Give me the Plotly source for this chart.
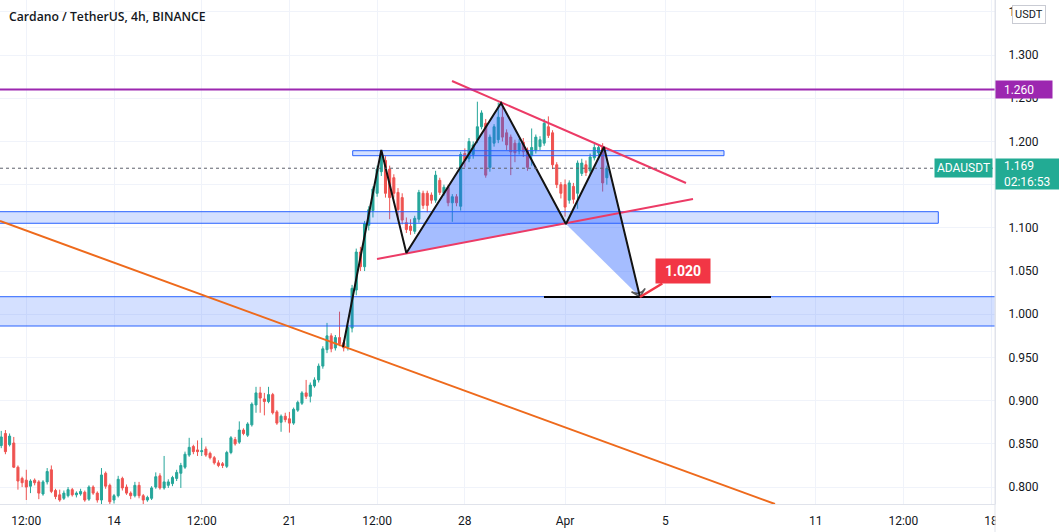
import plotly.graph_objects as go
import pandas as pd

# ---------------- data ----------------
opens = [.848,.862,.849,.851,.823,.810,.808,.801,.808,.806,.792,.806,.820,.796,.791,.787,.790,.797,.791,.792,
         .794,.786,.800,.793,.785,.816,.802,.785,.790,.810,.800,.793,.790,.802,.790,.785,.787,.800,.813,.799,
         .802,.804,.810,.816,.823,.837,.847,.843,.841,.844,.839,.834,.828,.827,.824,.840,.855,.852,.866,.860,
         .872,.895,.909,.902,.899,.907,.887,.875,.882,.879,.874,.889,.897,.909,.905,.917,.924,.940,.959,.975,
         .961,.973,.967,.962,.984,1.028,1.072,1.055,1.103,1.120,1.140,1.165,1.178,1.168,1.158,1.141,1.135,1.106,1.102,1.096,
         1.110,1.140,1.140,1.138,1.132,1.155,1.140,1.147,1.129,1.136,1.125,1.186,1.180,1.185,1.202,1.217,1.221,1.170,1.198,1.202,
         1.228,1.210,1.205,1.198,1.189,1.199,1.190,1.184,1.190,1.194,1.198,1.217,1.210,1.173,1.150,1.150,1.132,1.148,1.140,1.163,
         1.173,1.166,1.181,1.187,1.193,1.158]
highs = [.865,.866,.862,.858,.825,.812,.820,.809,.810,.808,.808,.822,.825,.798,.797,.796,.800,.799,.795,.798,
         .796,.802,.802,.795,.822,.818,.804,.792,.813,.812,.803,.795,.806,.806,.792,.790,.801,.817,.816,.836,
         .809,.813,.820,.828,.841,.857,.849,.854,.857,.847,.841,.836,.831,.829,.842,.859,.858,.876,.868,.875,
         .898,.916,.916,.909,.916,.909,.889,.884,.886,.887,.892,.900,.911,.924,.921,.927,.943,.963,.990,.978,
         .976,1.003,.970,.988,1.034,1.076,1.078,1.108,1.125,1.148,1.172,1.190,1.183,1.172,1.162,1.146,1.140,1.112,1.110,1.114,
         1.144,1.143,1.143,1.141,1.166,1.158,1.150,1.150,1.139,1.139,1.188,1.192,1.204,1.200,1.246,1.236,1.226,1.208,1.220,1.245,
         1.240,1.214,1.208,1.202,1.203,1.204,1.193,1.215,1.208,1.206,1.226,1.229,1.213,1.176,1.153,1.156,1.155,1.152,1.178,1.180,
         1.178,1.186,1.197,1.196,1.198,1.172]
lows = [.845,.838,.847,.822,.797,.800,.785,.793,.802,.786,.790,.803,.793,.786,.783,.785,.788,.789,.788,.790,
        .783,.784,.791,.782,.780,.798,.779,.781,.788,.796,.791,.786,.788,.787,.780,.783,.785,.798,.797,.797,
        .799,.801,.807,.799,.821,.835,.838,.836,.836,.835,.832,.826,.823,.822,.822,.838,.848,.850,.860,.858,
        .870,.886,.886,.883,.897,.884,.872,.864,.875,.863,.872,.887,.895,.902,.898,.915,.921,.937,.955,.956,
        .958,.963,.957,.958,.979,1.022,1.050,1.050,1.097,1.112,1.136,1.160,1.135,1.110,1.135,1.109,1.104,1.094,1.092,1.093,
        1.106,1.122,1.118,1.128,1.129,1.138,1.137,1.125,1.107,1.125,1.120,1.170,1.176,1.180,1.198,1.214,1.158,1.165,1.194,1.198,
        1.200,1.190,1.161,1.176,1.185,1.182,1.166,1.172,1.186,1.190,1.195,1.204,1.168,1.146,1.134,1.113,1.128,1.128,1.122,1.160,
        1.160,1.162,1.178,1.184,1.142,1.150]
closes = [.858,.841,.859,.823,.807,.805,.800,.807,.805,.793,.806,.818,.795,.789,.785,.793,.797,.791,.793,.795,
          .785,.800,.793,.785,.814,.801,.783,.790,.809,.799,.793,.790,.802,.790,.785,.788,.799,.812,.799,.806,
          .806,.811,.817,.825,.838,.846,.841,.841,.842,.837,.834,.828,.825,.825,.840,.857,.850,.866,.862,.873,
          .896,.909,.903,.899,.907,.886,.874,.882,.878,.874,.890,.898,.909,.905,.918,.924,.940,.960,.975,.960,
          .973,.966,.961,.985,1.030,1.072,1.055,1.105,1.121,1.145,1.168,1.185,1.140,1.135,1.140,1.121,1.109,1.098,1.097,1.111,
          1.141,1.126,1.126,1.132,1.161,1.141,1.147,1.129,1.136,1.129,1.185,1.178,1.200,1.196,1.217,1.233,1.161,1.205,1.217,1.228,
          1.205,1.196,1.188,1.187,1.198,1.188,1.170,1.193,1.205,1.202,1.221,1.207,1.173,1.150,1.140,1.124,1.152,1.133,1.175,1.175,
          1.164,1.182,1.193,1.193,1.152,1.169]
times = pd.date_range("2022-03-09 12:00", periods=len(opens), freq="4h")

last_price = 1.169
countdown = "02:16:53"
price_ticks = [0.80, 0.85, 0.90, 0.95, 1.00, 1.05, 1.10, 1.15, 1.20, 1.25, 1.30, 1.35]
price_tick_text = ["0.800", "0.850", "0.900", "0.950", "1.000", "1.050", "1.100", "",
                   "1.200", "1.250", "1.300", "1.350"]
time_tick_vals = ["2022-03-10 12:00", "2022-03-14", "2022-03-17 12:00", "2022-03-21", "2022-03-24 12:00",
                  "2022-03-28", "2022-04-01", "2022-04-05", "2022-04-11", "2022-04-14 12:00", "2022-04-18"]
time_tick_text = ["12:00", "14", "12:00", "21", "12:00", "28", "Apr", "5", "11", "12:00", "18"]

# drawings (analyst levels / pattern points)
resistance_level = 1.260
target_level = 1.020
upper_zone = (["2022-03-23 12:36", "2022-04-07 08:12"], [1.1835, 1.1893])
middle_zone = (["2022-03-05", "2022-04-15 21:27"], [1.1053, 1.1187])
lower_zone = (["2022-03-05", "2022-04-25"], [0.9864, 1.0203])
pattern_t = ["2022-03-23 03:20", "2022-03-24 16:00", "2022-03-25 16:00", "2022-03-29 10:40",
             "2022-04-01 00:50", "2022-04-02 13:15", "2022-04-03 23:45"]
pattern_p = [0.9621, 1.1901, 1.0709, 1.2445, 1.1044, 1.1936, 1.020]
wedge_top_t = ["2022-03-27 11:43", "2022-04-05 19:48"]
wedge_top_p = [1.2700, 1.1519]
wedge_bot_t = ["2022-03-24 11:53", "2022-04-06 02:31"]
wedge_bot_p = [1.0639, 1.1334]
trend_t = ["2022-03-09 10:49", "2022-04-09 09:03"]
trend_p = [1.1079, 0.7804]
target_line_t = ["2022-03-31 03:49", "2022-04-09 05:13"]

GREEN = "#26a69a"
RED = "#ef5350"
BLUE = "rgb(41,98,255)"
BLUE_FILL = "rgba(41,98,255,0.2)"
PAT_FILL = "rgba(41,98,255,0.42)"
PINK = "#ec3b66"
ORANGE = "#ee6a1c"
PURPLE = "#9c27b0"
TEAL = "#22ab94"
TXT = "#131722"
FONT = "Roboto"

fig = go.Figure()
fig.add_trace(go.Candlestick(
    x=times, open=opens, high=highs, low=lows, close=closes,
    increasing=dict(line=dict(color=GREEN, width=1), fillcolor=GREEN),
    decreasing=dict(line=dict(color=RED, width=1), fillcolor=RED),
    whiskerwidth=0, hoverinfo="skip", showlegend=False))


def zone(tt, pp):
    x0, x1 = tt
    y0, y1 = pp
    fig.add_trace(go.Scatter(x=[x0, x1, x1, x0, x0], y=[y0, y0, y1, y1, y0], mode="lines",
                             fill="toself", fillcolor=BLUE_FILL, line=dict(color=BLUE, width=1),
                             hoverinfo="skip", showlegend=False))


zone(*upper_zone)
zone(*middle_zone)
zone(*lower_zone)

# pattern fills (triangles)
for a, b, c in [(2, 3, 4), (4, 5, 6)]:
    fig.add_trace(go.Scatter(x=[pattern_t[a], pattern_t[b], pattern_t[c], pattern_t[a]],
                             y=[pattern_p[a], pattern_p[b], pattern_p[c], pattern_p[a]],
                             mode="lines", fill="toself", fillcolor=PAT_FILL, line=dict(width=0),
                             hoverinfo="skip", showlegend=False))

# wedge lines
for tt, pp in [(wedge_top_t, wedge_top_p), (wedge_bot_t, wedge_bot_p)]:
    fig.add_trace(go.Scatter(x=tt, y=pp, mode="lines", line=dict(color=PINK, width=2),
                             hoverinfo="skip", showlegend=False))

# long trend line
fig.add_trace(go.Scatter(x=trend_t, y=trend_p, mode="lines", line=dict(color=ORANGE, width=2),
                         hoverinfo="skip", showlegend=False))

# target horizontal line
fig.add_trace(go.Scatter(x=target_line_t, y=[target_level, target_level], mode="lines",
                         line=dict(color="#000000", width=2), hoverinfo="skip", showlegend=False))

# zigzag path
fig.add_trace(go.Scatter(x=pattern_t, y=pattern_p, mode="lines", line=dict(color="#131313", width=2),
                         hoverinfo="skip", showlegend=False))
# arrow at the end of the path
fig.add_trace(go.Scatter(x=pattern_t[-2:], y=pattern_p[-2:], mode="markers",
                         marker=dict(symbol="arrow-wide-open", size=[0, 10], angleref="previous",
                                     color="#131313", line=dict(color="#131313", width=1.5)),
                         hoverinfo="skip", showlegend=False))

shapes = [
    dict(type="line", xref="paper", x0=0, x1=1, yref="y", y0=resistance_level, y1=resistance_level,
         line=dict(color=PURPLE, width=2)),
    dict(type="line", xref="paper", x0=0, x1=1, yref="y", y0=last_price, y1=last_price,
         line=dict(color="#5d606b", width=1, dash="dot")),
    # hide time labels under the price scale
    dict(type="rect", xref="paper", yref="paper", x0=1.0005, x1=1.08, y0=-0.07, y1=0,
         fillcolor="white", line=dict(width=0), layer="above"),
    dict(type="line", xref="paper", yref="paper", x0=1, x1=1, y0=-0.07, y1=1,
         line=dict(color="#e0e3eb", width=1), layer="above"),
]

annotations = [
    dict(text="Cardano / TetherUS, 4h, BINANCE", xref="paper", yref="paper", x=0, y=1,
         xanchor="left", yanchor="middle", xshift=7, yshift=-16, showarrow=False,
         font=dict(family="Open Sans", size=12.2, color=TXT, weight=600)),
    dict(text="USDT", xref="paper", yref="paper", x=1, y=1, xanchor="left", yanchor="top",
         xshift=17, yshift=-5, showarrow=False, bgcolor="white", bordercolor="#c9cbd3",
         borderwidth=1, borderpad=2, font=dict(family=FONT, size=11, color=TXT)),
    dict(text="&nbsp;&nbsp;1.260", xref="paper", yref="y", x=1, y=resistance_level, xanchor="left",
         yanchor="middle", showarrow=False, bgcolor=PURPLE, width=52, height=13, borderpad=2,
         align="left", font=dict(family=FONT, size=12, color="white"), xshift=0),
    dict(text="&nbsp;&nbsp;" + "%.3f" % last_price + "<br>&nbsp;&nbsp;" + countdown,
         xref="paper", yref="y", x=1, y=last_price, xanchor="left",
         yanchor="top", yshift=10, showarrow=False, bgcolor=TEAL, width=60, height=26, borderpad=2,
         align="left", font=dict(family=FONT, size=12, color="white"), xshift=0),
    dict(text="ADAUSDT", xref="paper", yref="y", x=1, y=last_price, xanchor="right",
         yanchor="middle", showarrow=False, bgcolor=TEAL, borderpad=2, xshift=-2,
         font=dict(family=FONT, size=12, color="white")),
    dict(text="<b>%.3f</b>" % target_level, xref="x", yref="y", x=pattern_t[-1], y=target_level,
         ax=43, ay=-26, showarrow=True, arrowhead=0, arrowwidth=2.5, arrowcolor="#f23645",
         bgcolor="#f23645", borderpad=4, width=46,
         font=dict(family=FONT, size=14, color="white")),
]

fig.update_layout(
    width=1059, height=532, margin=dict(l=0, r=64, t=0, b=28),
    paper_bgcolor="white", plot_bgcolor="white", showlegend=False,
    shapes=shapes, annotations=annotations,
    xaxis=dict(type="date", range=["2022-03-09 10:49", "2022-04-18 03:45"],
               rangeslider=dict(visible=False), tickmode="array", tickvals=time_tick_vals,
               ticktext=time_tick_text, showgrid=True, gridcolor="#f0f3fa", gridwidth=1,
               showline=True, linecolor="#e0e3eb", ticks="", ticklabelstandoff=6,
               tickfont=dict(family=FONT, size=12, color=TXT), zeroline=False, fixedrange=True),
    yaxis=dict(side="right", range=[0.7804, 1.3637], tickmode="array", tickvals=price_ticks,
               ticktext=price_tick_text, showgrid=True, gridcolor="#f0f3fa",
               showline=True, linecolor="#e0e3eb", ticks="", ticklabelstandoff=10,
               tickfont=dict(family=FONT, size=12, color=TXT), zeroline=False, fixedrange=True),
)

fig.write_html("out.html")
